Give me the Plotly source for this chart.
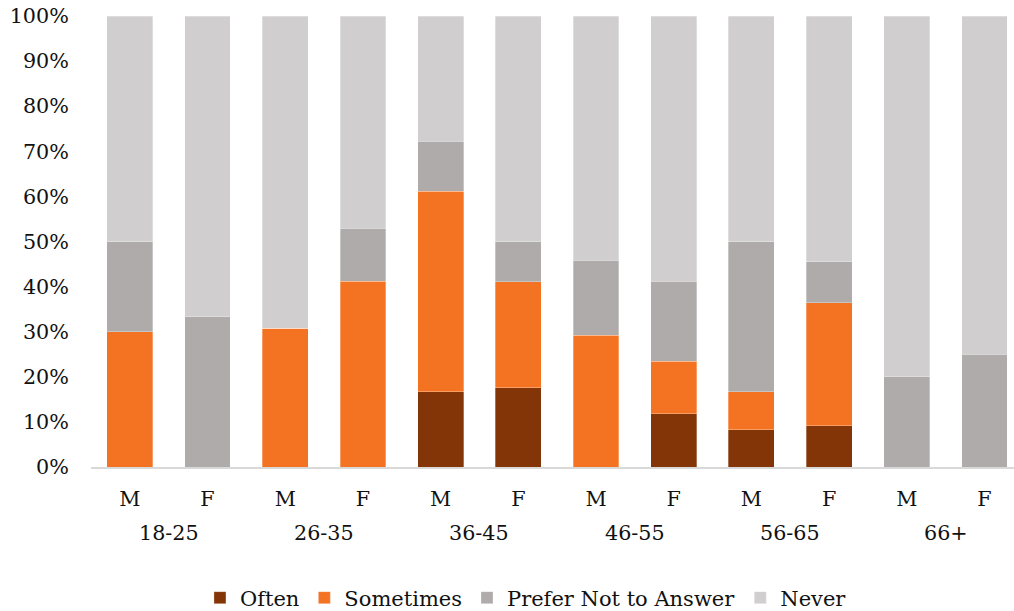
import plotly.graph_objects as go

age_groups = ["18-25", "26-35", "36-45", "46-55", "56-65", "66+"]
sexes = ["M", "F"]

often = [0, 0, 0, 0, 16.7, 17.6, 0, 11.8, 8.3, 9.1, 0, 0]
sometimes = [30.0, 0, 30.8, 41.2, 44.4, 23.5, 29.2, 11.7, 8.4, 27.3, 0, 0]
prefer_not = [20.0, 33.3, 0, 11.7, 11.1, 8.9, 16.6, 17.7, 33.3, 9.1, 20.0, 25.0]
never = [50.0, 66.7, 69.2, 47.1, 27.8, 50.0, 54.2, 58.8, 50.0, 54.5, 80.0, 75.0]

series_names = ["Often", "Sometimes", "Prefer Not to Answer", "Never"]
series_values = [often, sometimes, prefer_not, never]
colors = ["#843507", "#F47322", "#AFABAB", "#D0CECE"]

x_inner = [s for _ in age_groups for s in sexes]
x_pos = list(range(len(x_inner)))

fig = go.Figure()
for name, vals, col in zip(series_names, series_values, colors):
    fig.add_trace(go.Bar(
        x=x_pos,
        y=vals,
        name=name,
        marker=dict(color=col, line=dict(color="rgba(255,255,255,0.5)", width=0.6)),
    ))

font_family = "DejaVu Serif"
fs = 20.7

annotations = []
n = len(sexes)
for i, g in enumerate(age_groups):
    annotations.append(dict(
        x=i * n + (n - 1) / 2, xref="x",
        y=0, yref="paper",
        yshift=-66, yanchor="middle",
        text=g, showarrow=False,
        font=dict(family=font_family, size=fs, color="#111111"),
    ))

fig.update_layout(
    barmode="stack",
    bargap=0.41,
    width=1014,
    height=611,
    margin=dict(l=91, r=0, t=16, b=144, autoexpand=False),
    plot_bgcolor="white",
    paper_bgcolor="white",
    font=dict(family=font_family, size=fs, color="#111111"),
    annotations=annotations,
    legend=dict(
        orientation="h",
        x=0.5187, xanchor="center", xref="container",
        y=0.0213, yanchor="middle", yref="container",
        font=dict(size=21),
        traceorder="normal",
        itemwidth=30,
    ),
    xaxis=dict(
        tickmode="array",
        tickvals=x_pos,
        ticktext=x_inner,
        showline=True,
        linecolor="#D9D9D9",
        linewidth=1.5,
        showgrid=False,
        zeroline=False,
        ticks="outside",
        ticklen=12,
        tickcolor="rgba(0,0,0,0)",
        range=[-0.5, 11.38],
        tickfont=dict(size=fs),
        ticklabeloverflow="allow",
    ),
    yaxis=dict(
        range=[0, 100],
        tickvals=list(range(0, 101, 10)),
        ticktext=[f"{v}%" for v in range(0, 101, 10)],
        showgrid=False,
        zeroline=False,
        showline=False,
        ticks="outside",
        ticklen=17,
        tickcolor="rgba(0,0,0,0)",
        tickfont=dict(size=fs),
        ticklabeloverflow="allow",
    ),
)

fig.write_html(
    "out.html",
    config={"displayModeBar": False},
    post_script="document.body.style.margin='0';document.body.style.overflow='hidden';",
)
